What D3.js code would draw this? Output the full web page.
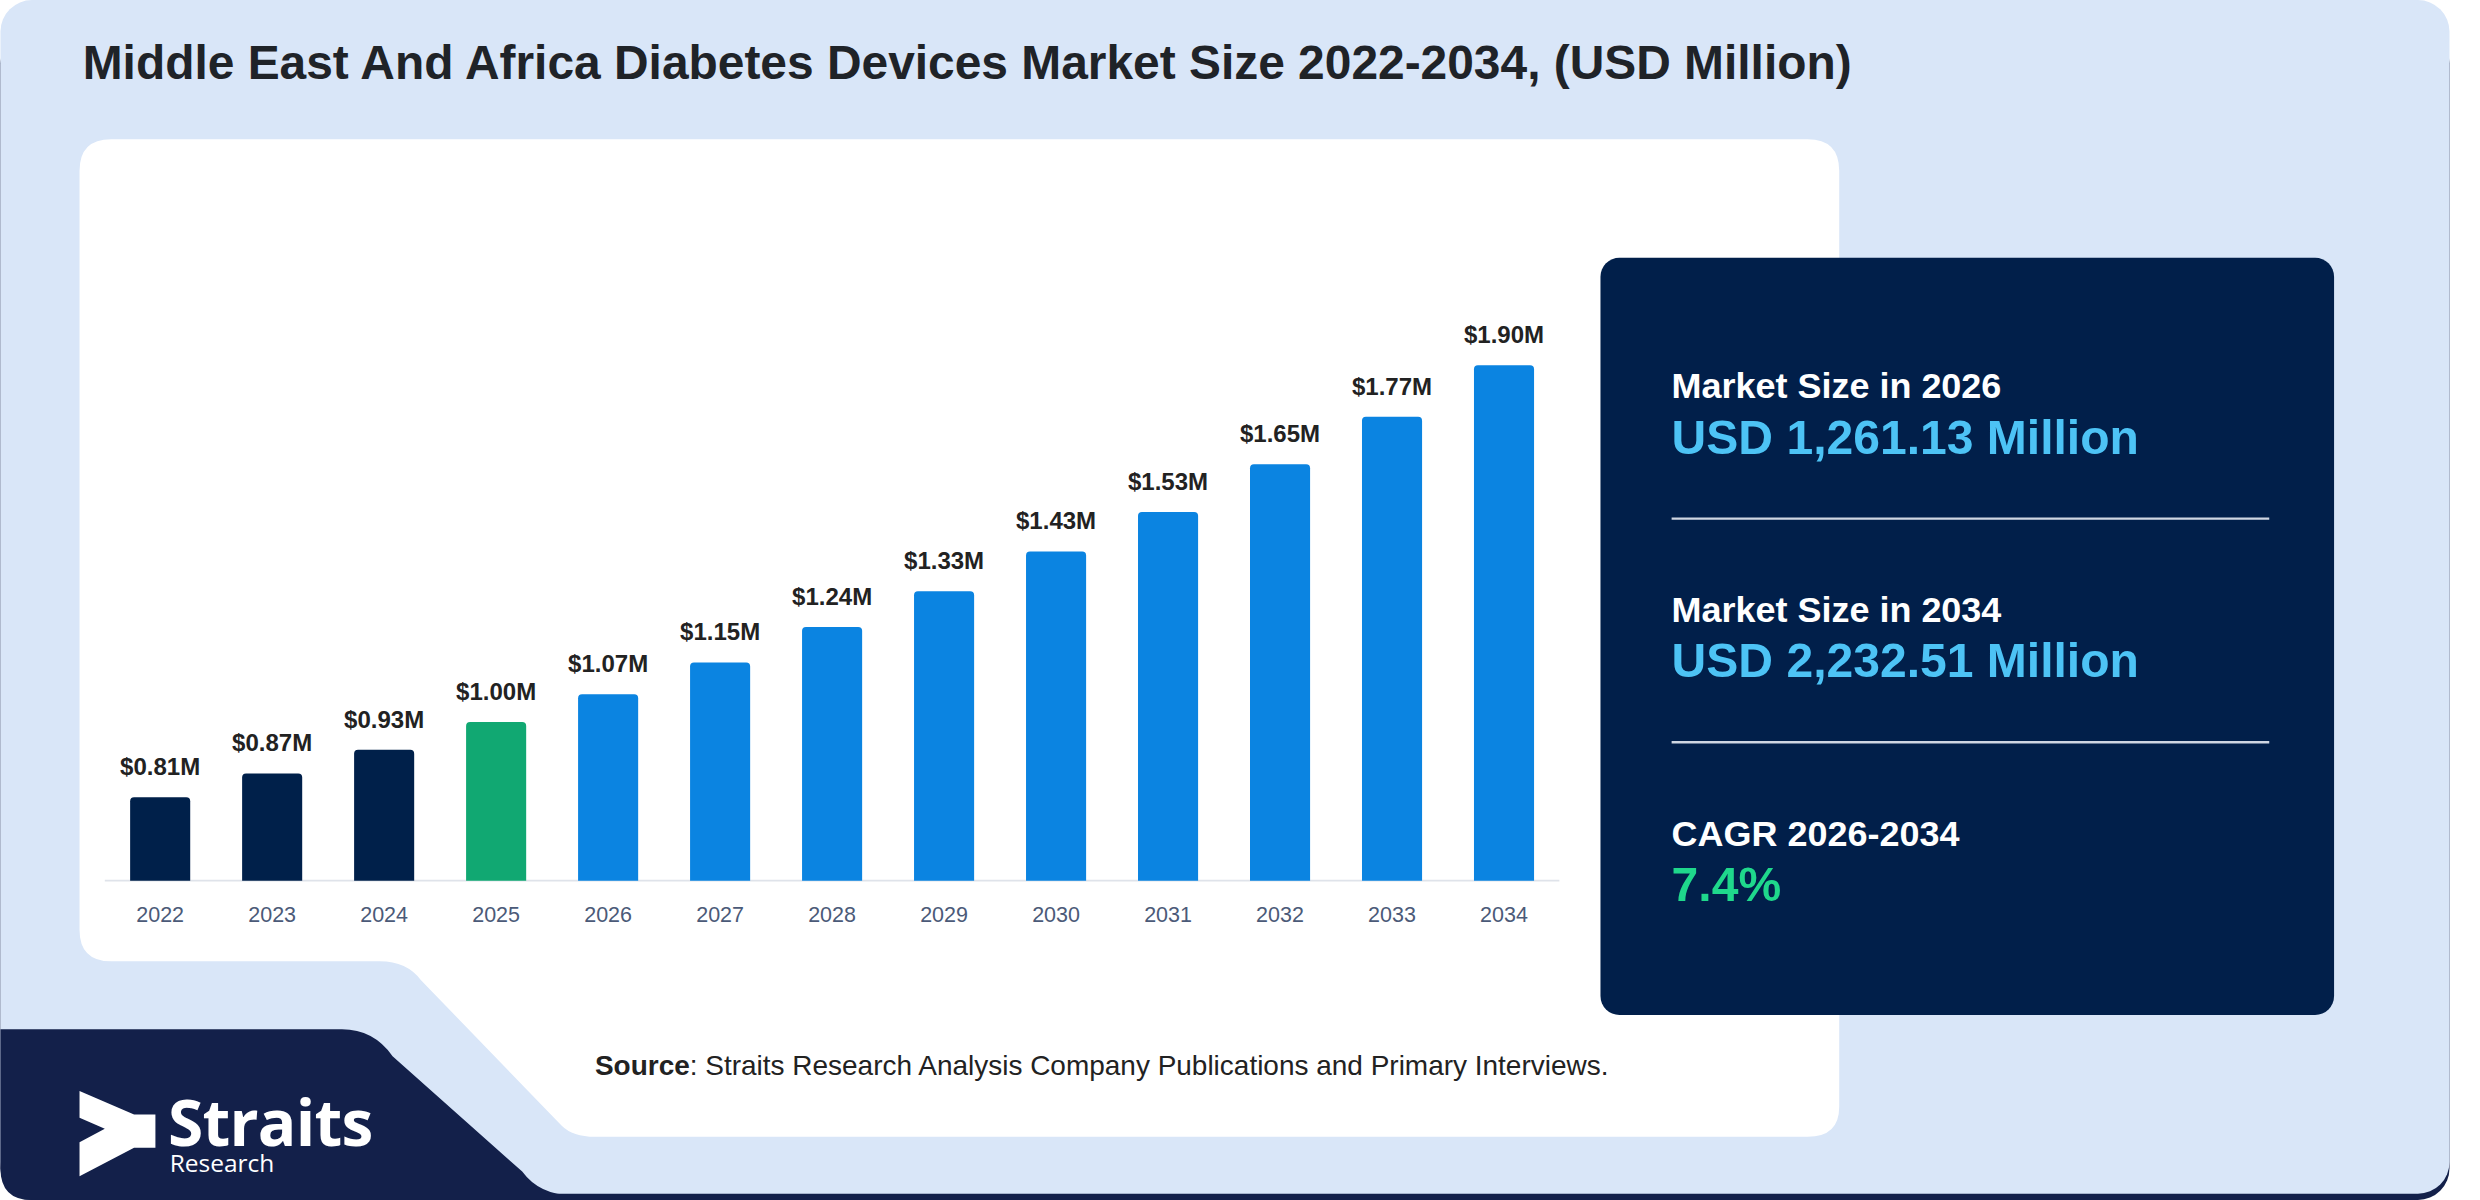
<!DOCTYPE html>
<html>
<head>
<meta charset="utf-8">
<script src="https://cdn.jsdelivr.net/npm/d3@7"></script>
<style>
  body { margin: 0; background: #ffffff; }
  svg { display: block; font-family: "Liberation Sans", Arial, sans-serif; }
</style>
</head>
<body>
<div id="chart"></div>
<script>
// Chart data
const years = [2022, 2023, 2024, 2025, 2026, 2027, 2028, 2029, 2030, 2031, 2032, 2033, 2034];
const values = [0.81, 0.87, 0.93, 1.00, 1.07, 1.15, 1.24, 1.33, 1.43, 1.53, 1.65, 1.77, 1.90];

// Side panel figures
const statLabels = ["Market Size in 2026", "Market Size in 2034", "CAGR 2026-2034"];
const statValues = ["USD 1,261.13 Million", "USD 2,232.51 Million", "7.4%"];

const title = "Middle East And Africa Diabetes Devices Market Size 2022-2034, (USD Million)";

//Whole picture is drawn in a 1568x759 box, scaled up to the window
const W = 1568, H = 759;
const svg = d3.select("#chart")
    .append("svg")
    .attr("width", 2480)
    .attr("height", 1200)
    .attr("viewBox", `0 0 ${W} ${H}`);

//Background: dark strip under the light blue card
svg.append("rect")
    .attr("x", 0).attr("y", 20)
    .attr("width", 1549).attr("height", H - 20)
    .attr("rx", 20)
    .attr("fill", "#13204a");
svg.append("rect")
    .attr("x", 0).attr("y", 0)
    .attr("width", 1549).attr("height", 755)
    .attr("rx", 20)
    .attr("fill", "#d9e6f8");

//Navy block with the logo, bottom left
svg.append("path")
    .attr("d", "M0,651 H216 Q236,651 248,668 L330,741 Q341,756 362,756 H600 V759 H20 Q0,759 0,739 Z")
    .attr("fill", "#13204a");

//White card holding the bars
svg.append("path")
    .attr("d", "M70,88 H1143 Q1163,88 1163,108 V700 Q1163,719 1143,719 H376 Q362,719 355,712 L266,620 Q257,608 240,608 H70 Q50,608 50,588 V108 Q50,88 70,88 Z")
    .attr("fill", "#ffffff");

//Title
svg.append("text")
    .attr("x", 52).attr("y", 50)
    .attr("font-size", 30.3)
    .attr("font-weight", "bold")
    .attr("fill", "#1f2328")
    .text(title);

//Scales
const x = d3.scaleBand()
    .domain(years)
    .range([66, 986])
    .paddingInner(0.4635)
    .paddingOuter(0.226);
const y = d3.scaleLinear()
    .domain([0.6, 1.9])
    .range([557, 231]);
//Historical years navy, base year green, forecast blue
const color = d3.scaleThreshold()
    .domain([2025, 2026])
    .range(["#00204a", "#11a872", "#0b84e1"]);

//Baseline
svg.append("line")
    .attr("x1", 66).attr("x2", 986)
    .attr("y1", y(0.6)).attr("y2", y(0.6))
    .attr("stroke", "#dfe3ea")
    .attr("stroke-width", 1.2);

//Bars
const bars = svg.selectAll(".bar")
    .data(years)
    .enter()
    .append("g")
    .attr("class", "bar");

bars.append("path")
    .attr("d", (d, i) => {
        const x0 = x(d), w = x.bandwidth(), t = y(values[i]), b = y(0.6), r = 2.5;
        return `M${x0},${b} V${t + r} Q${x0},${t} ${x0 + r},${t} H${x0 + w - r} Q${x0 + w},${t} ${x0 + w},${t + r} V${b} Z`;
    })
    .attr("fill", d => color(d));

//Value labels
bars.append("text")
    .attr("x", d => x(d) + x.bandwidth() / 2)
    .attr("y", (d, i) => y(values[i]) - 14)
    .attr("text-anchor", "middle")
    .attr("font-size", 15.2)
    .attr("font-weight", "bold")
    .attr("fill", "#222222")
    .text((d, i) => "$" + values[i].toFixed(2) + "M");

//Year labels
bars.append("text")
    .attr("x", d => x(d) + x.bandwidth() / 2)
    .attr("y", 583)
    .attr("text-anchor", "middle")
    .attr("font-size", 13.6)
    .attr("fill", "#4b5a78")
    .text(d => d);

//Right panel
svg.append("rect")
    .attr("x", 1012).attr("y", 163)
    .attr("width", 464).attr("height", 479)
    .attr("rx", 12)
    .attr("fill", "#011f4a");

const statColors = ["#4dc3f5", "#4dc3f5", "#1fd88c"];
const stat = svg.selectAll(".stat")
    .data(statLabels)
    .enter()
    .append("g")
    .attr("class", "stat")
    .attr("transform", (d, i) => `translate(1057, ${252 + i * 141.5})`);

stat.append("text")
    .attr("font-size", 22.75)
    .attr("font-weight", "bold")
    .attr("fill", "#ffffff")
    .text(d => d);
stat.append("text")
    .attr("y", 35)
    .attr("font-size", 30.4)
    .attr("font-weight", "bold")
    .attr("fill", (d, i) => statColors[i])
    .text((d, i) => statValues[i]);
//Divider under the first two figures
stat.filter((d, i) => i < statLabels.length - 1)
    .append("line")
    .attr("x1", 0).attr("x2", 378)
    .attr("y1", 76).attr("y2", 76)
    .attr("stroke", "#cfd6e2")
    .attr("stroke-width", 1.5);

//Source line
const src = svg.append("text")
    .attr("x", 376).attr("y", 680)
    .attr("font-size", 17.7)
    .attr("fill", "#222222");
src.append("tspan").attr("font-weight", "bold").text("Source");
src.append("tspan").text(": Straits Research Analysis Company Publications and Primary Interviews.");

//Logo
svg.append("polygon")
    .attr("points", "50,690 84.5,705 98,705 98,726 84.5,726 50,744 50,722.5 66,714 50,707")
    .attr("fill", "#ffffff");
svg.append("text")
    .attr("x", 106).attr("y", 725)
    .attr("font-family", "'Open Sans', sans-serif")
    .attr("font-size", 40.5)
    .attr("font-weight", "bold")
    .attr("letter-spacing", -0.5)
    .attr("fill", "#ffffff")
    .text("Straits");
svg.append("text")
    .attr("x", 107).attr("y", 741)
    .attr("font-family", "'Open Sans', sans-serif")
    .attr("font-size", 15.5)
    .attr("fill", "#ffffff")
    .text("Research");
</script>
</body>
</html>
